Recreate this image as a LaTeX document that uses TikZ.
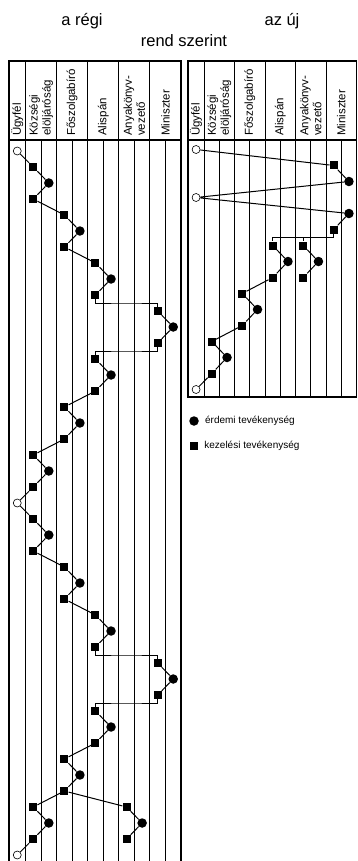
\documentclass[tikz,border=0pt]{standalone}
\usepackage{fontspec}
\setmainfont{Liberation Sans}
\usetikzlibrary{positioning,calc}

\begin{document}
\begin{tikzpicture}[
        x=1pt, y=-1pt,
        tabline/.style={draw=black, line width=1.1pt},
        conn/.style={draw=black, line width=1pt},
        kez/.style={rectangle, fill=black, minimum size=8pt, inner sep=0pt},
        erd/.style={circle, fill=black, minimum size=9.5pt, inner sep=0pt},
        ugy/.style={circle, draw=black, fill=white, line width=0.6pt, minimum size=8pt, inner sep=0pt},
        head/.style={rotate=90, anchor=west, align=left, inner sep=0pt, font=\fontsize{11.5}{13}\selectfont},
        title/.style={anchor=base, inner sep=0pt, font=\fontsize{16.5}{19}\selectfont},
        legend/.style={inner sep=0pt, font=\fontsize{10}{12}\selectfont}
    ]
    \useasboundingbox (0,0) rectangle (357,861);

    \node[title] (regi) at (82,25.5) {a régi};
    \node[title] (uj) at (282,25.5) {az új};
    \node[title] (rend) at (184,47) {rend szerint};

    \begin{scope}[shift={(9,0)}]
        \draw[tabline] (0,870) |- (172,61) -- (172,870);
        \draw[tabline] (0,140) -- (172,140);
        \foreach \k in {1,3,5,7,9}
            \draw[tabline] ({16.5+15.55*(\k-1)},61) -- ({16.5+15.55*(\k-1)},870);
        \foreach \k in {2,4,6,8,10}
            \draw[tabline] ({16.5+15.55*(\k-1)},140) -- ({16.5+15.55*(\k-1)},870);
        \node[head] (lugy) at (8.25,136) {Ügyfél};
        \node[head] (lkoz) at (32.05,136) {Községi\\elöljáróság};
        \node[head] (lfosz) at (63.15,136) {Főszolgabíró};
        \node[head] (lalis) at (94.25,136) {Alispán};
        \node[head] (lany) at (125.35,136) {Anyakönyv-\\vezető};
        \node[head] (lmin) at (156.45,136) {Miniszter};
        \foreach \nm/\i/\c/\s in {L0/0/0/ugy, L1/1/1/kez, L2/2/2/erd, L3/3/1/kez, L4/4/3/kez, L5/5/4/erd,
                L6/6/3/kez, L7/7/5/kez, L8/8/6/erd, L9/9/5/kez, L10/10/9/kez, L11/11/10/erd, L12/12/9/kez,
                L13/13/5/kez, L14/14/6/erd, L15/15/5/kez, L16/16/3/kez, L17/17/4/erd, L18/18/3/kez,
                L19/19/1/kez, L20/20/2/erd, L21/21/1/kez, L22/22/0/ugy, L23/23/1/kez, L24/24/2/erd,
                L25/25/1/kez, L26/26/3/kez, L27/27/4/erd, L28/28/3/kez, L29/29/5/kez, L30/30/6/erd,
                L31/31/5/kez, L32/32/9/kez, L33/33/10/erd, L34/34/9/kez, L35/35/5/kez, L36/36/6/erd,
                L37/37/5/kez, L38/38/3/kez, L39/39/4/erd, L40/40/3/kez, L41/41/1/kez, L42/42/2/erd,
                L43/43/1/kez, L44/44/0/ugy, A41/41/7/kez, A42/42/8/erd, A43/43/7/kez}{
            \pgfmathsetmacro\cx{\c==0 ? 8.25 : 16.5+15.55*(\c-0.5)}
            \node[\s] (\nm) at (\cx,{151+16*\i}) {};
        }
    \end{scope}

    \begin{scope}[shift={(188,0)}, x=0.98pt]
        \draw[tabline] (0,61) rectangle (172,397);
        \draw[tabline] (0,140) -- (172,140);
        \foreach \k in {1,3,5,7,9}
            \draw[tabline] ({16.5+15.55*(\k-1)},61) -- ({16.5+15.55*(\k-1)},397);
        \foreach \k in {2,4,6,8,10}
            \draw[tabline] ({16.5+15.55*(\k-1)},140) -- ({16.5+15.55*(\k-1)},397);
        \node[head] (rugy) at (8.25,136) {Ügyfél};
        \node[head] (rkoz) at (32.05,136) {Községi\\elöljáróság};
        \node[head] (rfosz) at (63.15,136) {Főszolgabíró};
        \node[head] (ralis) at (94.25,136) {Alispán};
        \node[head] (rany) at (125.35,136) {Anyakönyv-\\vezető};
        \node[head] (rmin) at (156.45,136) {Miniszter};
        \foreach \nm/\i/\c/\s in {R0/0/0/ugy, R1/1/9/kez, R2/2/10/erd, R3/3/0/ugy, R4/4/10/erd, R5/5/9/kez,
                R6/6/5/kez, R7/7/6/erd, R8/8/5/kez, R9/9/3/kez, R10/10/4/erd, R11/11/3/kez,
                R12/12/1/kez, R13/13/2/erd, R14/14/1/kez, R15/15/0/ugy, Q6/6/7/kez, Q7/7/8/erd, Q8/8/7/kez}{
            \pgfmathsetmacro\cx{\c==0 ? 8.25 : 16.5+15.55*(\c-0.5)}
            \node[\s] (\nm) at (\cx,{149.5+16*\i}) {};
        }
    \end{scope}

    \draw[conn] (L0) -- (L1) -- (L2) -- (L3) -- (L4) -- (L5) -- (L6) -- (L7) -- (L8) -- (L9);
    \draw[conn] (L9) |- ($(L9)!.5!(L10)$) -| (L10);
    \draw[conn] (L10) -- (L11) -- (L12);
    \draw[conn] (L12) |- ($(L12)!.5!(L13)$) -| (L13);
    \draw[conn] (L13) -- (L14) -- (L15) -- (L16) -- (L17) -- (L18) -- (L19) -- (L20) -- (L21) -- (L22);
    \draw[conn] (L22) -- (L23) -- (L24) -- (L25) -- (L26) -- (L27) -- (L28) -- (L29) -- (L30) -- (L31);
    \draw[conn] (L31) |- ($(L31)!.5!(L32)$) -| (L32);
    \draw[conn] (L32) -- (L33) -- (L34);
    \draw[conn] (L34) |- ($(L34)!.5!(L35)$) -| (L35);
    \draw[conn] (L35) -- (L36) -- (L37) -- (L38) -- (L39) -- (L40) -- (L41) -- (L42) -- (L43) -- (L44);
    \draw[conn] (L40) -- (A41) -- (A42) -- (A43);

    \draw[conn] (R0) -- (R1) -- (R2) -- (R3) -- (R4) -- (R5);
    \coordinate (rk) at ($(R5)!.5!(R6)$);
    \draw[conn] (R5) |- (rk) -| (R6);
    \draw[conn] (rk -| Q6) -- (Q6);
    \draw[conn] (R6) -- (R7) -- (R8) -- (R9) -- (R10) -- (R11) -- (R12) -- (R13) -- (R14) -- (R15);
    \draw[conn] (Q6) -- (Q7) -- (Q8);

    \node[erd] (lerd) at (194,421) {};
    \node[legend, right=6pt of lerd] (lerdt) {érdemi tevékenység};
    \node[kez] (lkez) at (194,446) {};
    \node[legend, right=6pt of lkez] (lkezt) {kezelési tevékenység};
\end{tikzpicture}
\end{document}
